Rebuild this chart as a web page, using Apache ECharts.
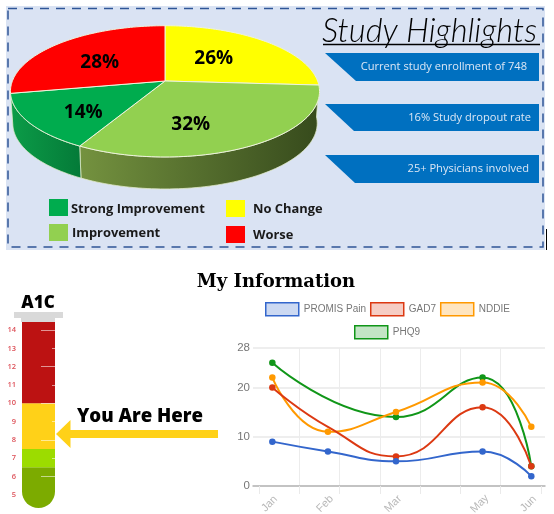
<!DOCTYPE html>
<html><head><meta charset="utf-8">
<style>html,body{margin:0;padding:0;background:#fff}#c{width:554px;height:514px}</style>
<script src="https://cdn.jsdelivr.net/npm/echarts@6/dist/echarts.min.js"></script>
</head><body><div id="c"></div>
<script>
// ---- data ----
const pieNames = ['No Change','Improvement','Strong Improvement','Worse'];
const pieValues = [26,32,14,28];
const pieColors = ['#ffff00','#92d050','#00ac4e','#ff0000'];
const highlights = ['Current study enrollment of 748','16% Study dropout rate','25+ Physicians involved'];
const tubeBands = [[4.28,6.5],[6.5,7.5],[7.5,10],[10,14.44]];
const tubeLabels = [5,6,7,8,9,10,11,12,13,14];
const monthNames = ['Jan','Feb','Mar','May','Jun'];
const monthPos = [0.33,1.71,3.4,5.55,6.76];
const promis = [9,7,5,7,2];
const gad7 = [20,12,6,16,4];
const nddie = [22,11,15,21,12];
const phq9 = [25,null,14,22,4];

// ---- pie projection ----
const CX=165, CY=81, A=152.6, B=64, P=0.1576, DEPTH=32;
function proj(theta, r, bottom){
  const u=r*Math.sin(theta), v=r*Math.cos(theta), w=1+P*v;
  if(bottom){ return [CX+0.985*A*u/w, CY+DEPTH-B*v/w]; }
  return [CX+A*u/w, CY-B*v/w];
}
const total = pieValues.reduce((a,b)=>a+b,0);
const labelNudge = [[1,-4],[-9.5,17],[-17,12],[-4,3]];
const labelR = [0.45,0.45,0.5,0.55];
const wallStops = {1:['#74923f','#364a1c'],2:['#0c9c48','#047a38']};

function pieItem(params, api){
  const i=params.dataIndex;
  let before=0; for(let k=0;k<i;k++) before+=pieValues[k];
  const a0=before/total*2*Math.PI, a1=(before+api.value(0))/total*2*Math.PI;
  const children=[];
  const n=80, top=[];
  top.push(proj(0,0,false));
  for(let k=0;k<=n;k++) top.push(proj(a0+(a1-a0)*k/n,1,false));
  const w0=Math.max(a0,Math.PI/2), w1=Math.min(a1,Math.PI*1.5);
  if(wallStops[i] && w1>w0){
    const upper=[],lower=[];
    for(let k=0;k<=n;k++){
      const t=w0+(w1-w0)*k/n;
      upper.push(proj(t,1,false)); lower.unshift(proj(t,1,true));
    }
    const stops=wallStops[i];
    children.push({type:'polygon',shape:{points:upper.concat(lower)},
      style:{fill:new echarts.graphic.LinearGradient(0,0,1,0,[
        {offset:0,color:stops[0]},{offset:1,color:stops[1]}]),
        stroke:'#dfe8c8',lineWidth:0.8}});
  }
  children.push({type:'polygon',shape:{points:top},
    style:{fill:pieColors[i],stroke:'#eef3dc',lineWidth:1}});
  const mid=(a0+a1)/2, lp=proj(mid,labelR[i],false);
  children.push({type:'text',style:{x:lp[0]+labelNudge[i][0],y:lp[1]+labelNudge[i][1],
    text:pieValues[i]+'%',fill:'#000',align:'center',verticalAlign:'middle',
    font:'bold 19px "Open Sans"'},z2:10});
  return {type:'group',children};
}

function tubeItem(params, api){
  const lo=api.coord([0,api.value(0)]), hi=api.coord([0,api.value(1)]);
  const x=params.coordSys.x, w=params.coordSys.width;
  return {type:'rect',shape:{x:x,y:hi[1],width:w,height:lo[1]-hi[1],
    r:params.dataIndex===0?[0,0,16.5,16.5]:0},
    style:{fill:['#7cab00','#9cdc00','#ffd118','#bc1212'][params.dataIndex]}};
}

const mk=(name,vals,color,hidden)=>({name,type:'line',xAxisIndex:1,yAxisIndex:3,smooth:0.5,connectNulls:true,
  data:vals.map((v,i)=>(hidden===i?{value:[monthPos[i],v],symbol:'none'}:[monthPos[i],v])),
  symbol:'circle',symbolSize:6.5,showSymbol:true,
  lineStyle:{color,width:2},itemStyle:{color},z:3});

const legendFill={ 'PROMIS Pain':['rgba(51,102,204,0.25)','#3366cc'],'GAD7':['rgba(220,57,18,0.25)','#dc3912'],
  'NDDIE':['rgba(255,153,0,0.25)','#ff9900'],'PHQ9':['rgba(16,150,24,0.25)','#109618'] };
const legendItem=n=>({name:n,icon:'rect',itemStyle:{color:legendFill[n][0],borderColor:legendFill[n][1],borderWidth:1.5}});
const legendBase={itemGap:4,itemWidth:33,itemHeight:13,icon:'rect',selectedMode:false,
  textStyle:{color:'#777',fontSize:10,fontFamily:'Liberation Sans'}};

const g=[];
g.push({type:'rect',shape:{x:6,y:6,width:539,height:244},style:{fill:'#dae3f3'},z:-5});
g.push({type:'rect',shape:{x:8,y:8.5,width:535,height:238.5},style:{fill:'none',stroke:'#2f5597',lineWidth:1.5,lineDash:[9,7]},z:-4});
g.push({type:'line',shape:{x1:546.5,y1:229,x2:546.5,y2:250},style:{stroke:'#000',lineWidth:1},z:-3});
g.push({type:'text',style:{x:322,y:31,text:'Study Highlights',font:'italic 300 32.7px Lato',fill:'#000',verticalAlign:'middle'}});
g.push({type:'line',shape:{x1:323,y1:44.5,x2:540,y2:44.5},style:{stroke:'#000',lineWidth:1.6}});
const bannerGeo=[[53,81,356,527],[104,131,354,531],[155,183,355,529]];
highlights.forEach((t,i)=>{
  const b=bannerGeo[i];
  g.push({type:'polygon',shape:{points:[[325,b[0]],[539,b[0]],[539,b[1]],[b[2],b[1]]]},style:{fill:'#0070c0'}});
  g.push({type:'text',style:{x:b[3],y:(b[0]+b[1])/2,text:t,align:'right',verticalAlign:'middle',fill:'#dbe7f5',font:'11.1px "Open Sans"'}});
});
const legGeo={'Strong Improvement':[49,199,71,209],'No Change':[226,200,253,209],'Improvement':[49,224,72,233],'Worse':[226,226,253,235]};
pieNames.forEach((n,i)=>{
  const q=legGeo[n];
  g.push({type:'rect',shape:{x:q[0],y:q[1],width:19,height:17},style:{fill:pieColors[i]}});
  g.push({type:'text',style:{x:q[2],y:q[3],text:n,verticalAlign:'middle',fill:'#1a1a1a',font:'bold 12.9px "Open Sans"'}});
});
g.push({type:'text',style:{x:276,y:282.5,text:'My Information',align:'center',verticalAlign:'middle',fill:'#000',font:'bold 18px "DejaVu Serif"'}});
g.push({type:'text',style:{x:38,y:303,text:'A1C',align:'center',verticalAlign:'middle',fill:'#000',font:'800 17px "Open Sans"'}});
g.push({type:'rect',shape:{x:14,y:312,width:49,height:6},style:{fill:'#d9d9d9'}});
g.push({type:'rect',shape:{x:21,y:318,width:34,height:4},style:{fill:'#d9d9d9'}});
g.push({type:'polygon',shape:{points:[[56,434],[70.5,420],[70.5,430],[218,430],[218,438],[70.5,438],[70.5,448]]},style:{fill:'#ffd118'}});
g.push({type:'text',style:{x:77,y:417,text:'You Are Here',verticalAlign:'middle',fill:'#000',font:'800 18.6px "Open Sans"'}});

const chart=echarts.init(document.getElementById('c'),null,{renderer:'canvas'});
chart.setOption({
  animation:false,backgroundColor:'#fff',
  graphic:{elements:g},
  legend:[
    Object.assign({left:260,top:297,width:290,data:['PROMIS Pain','GAD7','NDDIE'].map(legendItem)},legendBase),
    Object.assign({left:349,top:320,width:120,data:['PHQ9'].map(legendItem)},legendBase)
  ],
  grid:[
    {left:22,width:33,top:322,height:186,outerBoundsMode:'none'},
    {left:253,width:292,top:348,height:138,outerBoundsMode:'none'}
  ],
  xAxis:[
    {gridIndex:0,type:'value',min:0,max:1,show:false},
    {gridIndex:1,type:'value',min:-0.15,max:7.1,
      axisLine:{show:true,onZero:false,lineStyle:{color:'#b5b5b5',width:1.5}},
      axisTick:{show:true,length:8,customValues:[0,1,2,3,4,5,6,7],lineStyle:{color:'#eaeaea'}},
      splitLine:{show:true,showMinLine:false,showMaxLine:false,lineStyle:{color:'#ececec'}},
      axisLabel:{customValues:monthPos,rotate:45,margin:15,align:'center',verticalAlign:'middle',padding:[0,8,0,0],
        color:'#b8b8b8',fontSize:11,fontFamily:'Liberation Sans',
        formatter:(v)=>monthNames[monthPos.indexOf(v)]}}
  ],
  yAxis:[
    {gridIndex:0,type:'value',min:4.28,max:14.44,position:'left',
      axisLine:{show:false},axisTick:{show:false},splitLine:{show:false},
      axisLabel:{customValues:tubeLabels,margin:6,color:'#dd5058',fontSize:7.5,fontWeight:600,fontFamily:'Open Sans'}},
    {gridIndex:0,type:'value',min:4.28,max:14.44,position:'right',z:6,
      axisLine:{show:false},axisLabel:{show:false},splitLine:{show:false},
      axisTick:{show:true,inside:true,length:14,customValues:[6,8,10,12,14],lineStyle:{color:'rgba(255,255,255,0.55)',width:1}}},
    {gridIndex:0,type:'value',min:4.28,max:14.44,position:'right',z:6,
      axisLine:{show:false},axisLabel:{show:false},splitLine:{show:false},
      axisTick:{show:true,inside:true,length:3,customValues:[7,9,11,13],lineStyle:{color:'rgba(255,255,255,0.55)',width:1}}},
    {gridIndex:1,type:'value',min:0,max:28,interval:10,
      axisLine:{show:false},axisTick:{show:false},
      splitLine:{show:true,lineStyle:{color:'#e9e9e9',width:1.5}},
      axisLabel:{margin:3,color:'#777',fontSize:11.5,fontFamily:'Liberation Sans'}}
  ],
  series:[
    {type:'custom',coordinateSystem:'none',data:pieValues.map((v,i)=>({name:pieNames[i],value:[v]})),renderItem:pieItem,silent:true,z:2},
    {type:'custom',xAxisIndex:0,yAxisIndex:0,data:tubeBands,renderItem:tubeItem,silent:true,clip:false,z:1},
    mk('PHQ9',phq9,'#109618'),
    mk('NDDIE',nddie,'#ff9900'),
    mk('GAD7',gad7,'#dc3912',1),
    mk('PROMIS Pain',promis,'#3366cc')
  ]
});
</script></body></html>
